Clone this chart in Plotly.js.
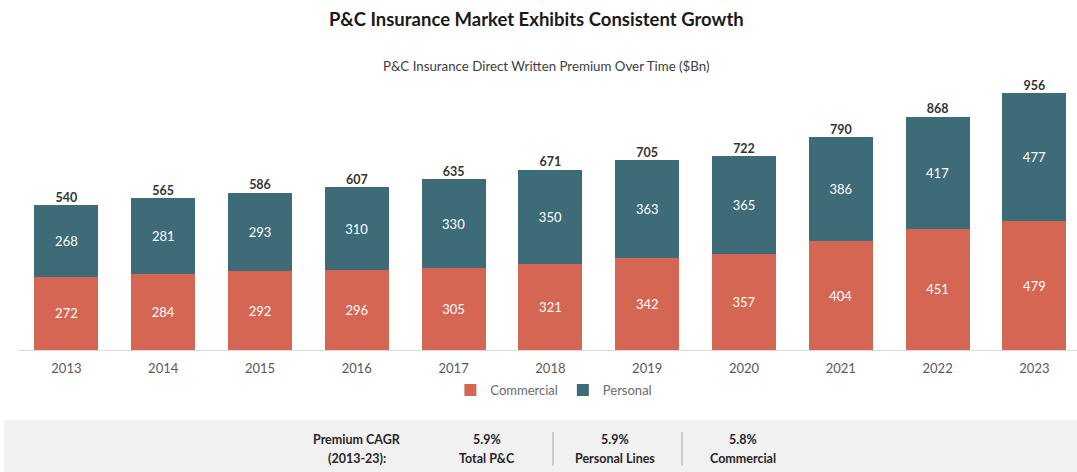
<!DOCTYPE html>
<html>
<head>
<meta charset="utf-8">
<script src="https://cdn.plot.ly/plotly-3.0.1.min.js"></script>
<style>html,body{margin:0;padding:0;background:#fff;}#chart{width:1077px;height:472px;}</style>
</head>
<body>
<div id="chart"></div>
<script>
const years = ["2013","2014","2015","2016","2017","2018","2019","2020","2021","2022","2023"];
const commercial = [272, 284, 292, 296, 305, 321, 342, 357, 404, 451, 479];
const personal = [268, 281, 293, 310, 330, 350, 363, 365, 386, 417, 477];
const totals = [540, 565, 586, 607, 635, 671, 705, 722, 790, 868, 956];
const cagrLabels = ["Total P&C", "Personal Lines", "Commercial"];
const cagrValues = ["5.9%", "5.9%", "5.8%"];

const FONT = "Lato, 'Open Sans', sans-serif";
const RED = "#d66654";
const TEAL = "#3d6b78";

const traces = [
  {
    type: "bar", name: "Commercial", x: years, y: commercial,
    marker: {color: RED},
    text: commercial.map(String), textposition: "inside", insidetextanchor: "middle",
    textfont: {color: "#ffffff", size: 13, family: FONT},
    hoverinfo: "skip"
  },
  {
    type: "bar", name: "Personal", x: years, y: personal,
    marker: {color: TEAL},
    text: personal.map(String), textposition: "inside", insidetextanchor: "middle",
    textfont: {color: "#ffffff", size: 13, family: FONT},
    hoverinfo: "skip"
  },
  {
    type: "scatter", mode: "text", x: years, y: totals,
    text: totals.map(v => "<b>" + v + "</b>"), textposition: "top center",
    textfont: {color: "#333333", size: 12.5, family: FONT},
    showlegend: false, hoverinfo: "skip", cliponaxis: false
  }
];

const cagrX = [0.443, 0.564, 0.685];
const BF = {size: 12.5, color: "#262626", family: FONT};
const annotations = [
  {xref: "paper", yref: "paper", x: 0.4995, y: 1.0558, text: "P&C Insurance Direct Written Premium Over Time ($Bn)",
   showarrow: false, xanchor: "center", yanchor: "middle", font: {size: 13.3, color: "#404040", family: FONT}},
  {xref: "paper", yref: "paper", x: 0.3205, y: -0.334, text: "<b>Premium CAGR</b>",
   showarrow: false, xanchor: "center", yanchor: "middle", font: BF},
  {xref: "paper", yref: "paper", x: 0.3205, y: -0.403, text: "<b>(2013-23):</b>",
   showarrow: false, xanchor: "center", yanchor: "middle", font: BF}
];
cagrLabels.forEach((lab, i) => {
  annotations.push({xref: "paper", yref: "paper", x: cagrX[i], y: -0.334, text: "<b>" + cagrValues[i] + "</b>",
    showarrow: false, xanchor: "center", yanchor: "middle", font: BF});
  annotations.push({xref: "paper", yref: "paper", x: cagrX[i], y: -0.403, text: "<b>" + lab + "</b>",
    showarrow: false, xanchor: "center", yanchor: "middle", font: BF});
});

const shapes = [
  {type: "rect", xref: "paper", yref: "paper", x0: -0.0132, x1: 1.0, y0: -0.26, y1: -0.46,
   fillcolor: "#f1f1f1", line: {width: 0}, layer: "below"},
  {type: "line", xref: "paper", yref: "paper", x0: 0.5052, x1: 0.5052, y0: -0.305, y1: -0.43,
   line: {color: "#a6a6a6", width: 1}},
  {type: "line", xref: "paper", yref: "paper", x0: 0.6270, x1: 0.6270, y0: -0.305, y1: -0.43,
   line: {color: "#a6a6a6", width: 1}}
];

const layout = {
  width: 1077, height: 472,
  margin: {l: 18, r: 0, t: 81, b: 122},
  paper_bgcolor: "#ffffff", plot_bgcolor: "#ffffff",
  barmode: "stack", bargap: 0.34,
  title: {text: "<b>P&C Insurance Market Exhibits Consistent Growth</b>", xref: "container", yref: "container",
    x: 0.498, y: 0.958, xanchor: "center", yanchor: "middle", font: {size: 18.5, color: "#1a1a1a", family: FONT}},
  xaxis: {type: "category", range: [-0.5, 10.44], showline: true, linecolor: "#d9d9d9", linewidth: 1,
    ticks: "outside", ticklen: 6, tickcolor: "rgba(0,0,0,0)",
    tickfont: {size: 13, color: "#595959", family: FONT}, showgrid: false, zeroline: false, fixedrange: true},
  yaxis: {range: [0, 1000], visible: false, showgrid: false, zeroline: false, fixedrange: true},
  showlegend: true,
  legend: {orientation: "h", x: 0.506, y: -0.149, xanchor: "center", yanchor: "middle",
    font: {size: 13, color: "#6b6b6b", family: FONT}, traceorder: "normal", itemwidth: 30, itemsizing: "constant"},
  annotations: annotations,
  shapes: shapes,
  font: {family: FONT}
};

Plotly.newPlot("chart", traces, layout, {displayModeBar: false, staticPlot: true});
</script>
</body>
</html>
